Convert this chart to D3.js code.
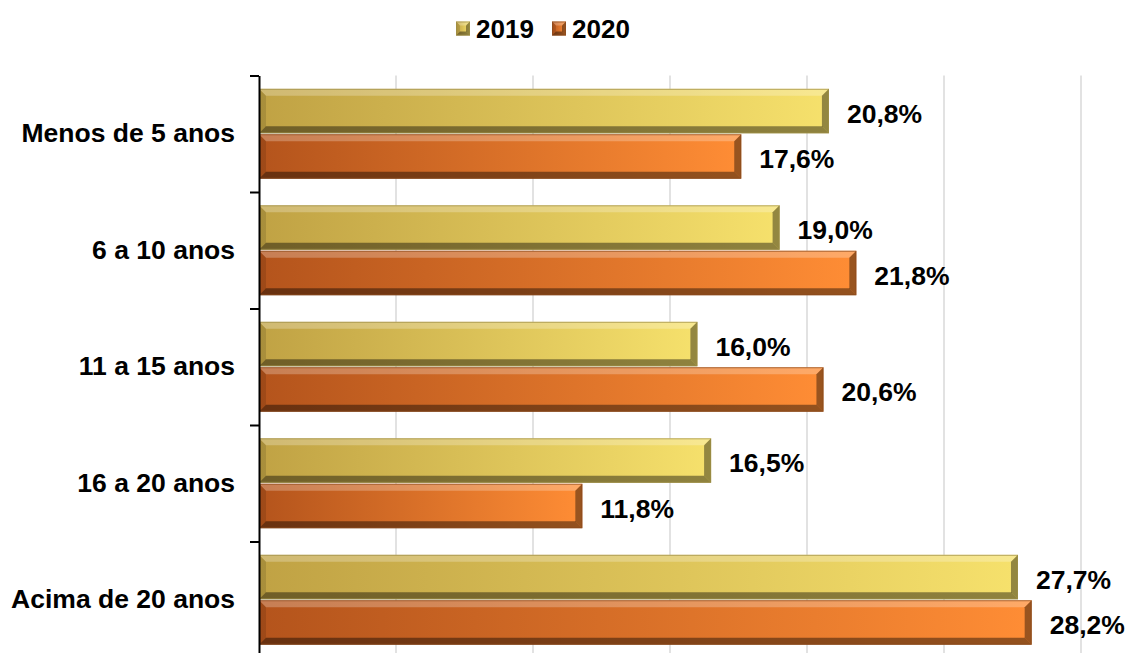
<!DOCTYPE html>
<html>
<head>
<meta charset="utf-8">
<script src="https://cdn.jsdelivr.net/npm/d3@7"></script>
<style>
  body { margin: 0; background: #fff; }
  svg { display: block; font-family: "Liberation Sans", Arial, sans-serif; }
</style>
</head>
<body>
<div id="chart"></div>
<script>
// data
const categories = ["Menos de 5 anos", "6 a 10 anos", "11 a 15 anos", "16 a 20 anos", "Acima de 20 anos"];
const seriesNames = ["2019", "2020"];
const values2019 = [20.8, 19.0, 16.0, 16.5, 27.7];
const values2020 = [17.6, 21.8, 20.6, 11.8, 28.2];
const xTicks = [0, 5, 10, 15, 20, 25, 30];

const width = 1128, height = 653;
const margin = { top: 75.5, left: 259, right: 47 };
const plotBottom = 658;

// colours: dark left end, light right end, and outline
const palette = {
  "2019": { dark: "#c0a244", light: "#f6e16c", edge: "#9c8d45" },
  "2020": { dark: "#b4541c", light: "#ff8d35", edge: "#8a4a1d" }
};

const rows = categories.map((c, i) => ({
  category: c,
  values: [
    { series: "2019", value: values2019[i] },
    { series: "2020", value: values2020[i] }
  ]
}));

const svg = d3.select("#chart").append("svg")
  .attr("width", width)
  .attr("height", height);

const defs = svg.append("defs");
seriesNames.forEach(s => {
  const g = defs.append("linearGradient")
    .attr("id", "grad" + s)
    .attr("x1", "0").attr("y1", "0").attr("x2", "1").attr("y2", "0");
  g.append("stop").attr("offset", "0").attr("stop-color", palette[s].dark);
  g.append("stop").attr("offset", "1").attr("stop-color", palette[s].light);
});

const x = d3.scaleLinear().domain([0, 30]).range([margin.left, width - margin.right]);
const y = d3.scaleBand().domain(categories)
  .range([margin.top, plotBottom])
  .paddingInner(0.22).paddingOuter(0.11);
const ySeries = d3.scaleBand().domain(seriesNames).range([0, y.bandwidth()]);

// vertical gridlines
svg.append("g")
  .selectAll("line")
  .data(xTicks.slice(1))
  .join("line")
  .attr("x1", d => x(d)).attr("x2", d => x(d))
  .attr("y1", margin.top).attr("y2", plotBottom)
  .attr("stroke", "#d9d9d9")
  .attr("stroke-width", 1.5);

// draws a bar with bevelled edges
function bevelBar(g, x0, y0, x1, y1, s, b) {
  g.append("rect")
    .attr("x", x0).attr("y", y0)
    .attr("width", x1 - x0).attr("height", y1 - y0)
    .attr("fill", `url(#grad${s})`);
  const faces = [
    { pts: [[x0, y0], [x1, y0], [x1 - b, y0 + b], [x0 + b, y0 + b]], fill: "#fff", op: 0.25 },
    { pts: [[x0, y1], [x1, y1], [x1 - b, y1 - b], [x0 + b, y1 - b]], fill: "#000", op: 0.42 },
    { pts: [[x0, y0], [x0 + b, y0 + b], [x0 + b, y1 - b], [x0, y1]], fill: "#000", op: 0.12 },
    { pts: [[x1, y0], [x1 - b, y0 + b], [x1 - b, y1 - b], [x1, y1]], fill: "#000", op: 0.4 }
  ];
  g.selectAll(null)
    .data(faces)
    .join("polygon")
    .attr("points", d => d.pts.map(p => p.join(",")).join(" "))
    .attr("fill", d => d.fill)
    .attr("fill-opacity", d => d.op);
  g.append("rect")
    .attr("x", x0 + 0.5).attr("y", y0 + 0.5)
    .attr("width", x1 - x0 - 1).attr("height", y1 - y0 - 1)
    .attr("fill", "none")
    .attr("stroke", palette[s].edge)
    .attr("stroke-opacity", 0.7);
}

const groups = svg.append("g")
  .selectAll("g")
  .data(rows)
  .join("g")
  .attr("transform", d => `translate(0,${y(d.category)})`);

groups.each(function (row) {
  const g = d3.select(this);
  row.values.forEach(v => {
    const y0 = ySeries(v.series) + 0.5;
    const y1 = ySeries(v.series) + ySeries.bandwidth() - 0.5;
    bevelBar(g.append("g"), x(0), y0, x(v.value), y1, v.series, 7);
    g.append("text")
      .attr("x", x(v.value) + 18)
      .attr("y", ySeries(v.series) + ySeries.bandwidth() / 2 + 2)
      .attr("dy", "0.36em")
      .attr("font-size", 26.5)
      .attr("font-weight", "bold")
      .attr("fill", "#000")
      .text(d3.format(".1f")(v.value).replace(".", ",") + "%");
  });
});

// left axis with ticks at the category boundaries
const yEdges = d3.scaleLinear().domain([0, categories.length])
  .range([margin.top, margin.top + y.step() * categories.length]);
svg.append("g")
  .attr("transform", `translate(${margin.left},0)`)
  .call(d3.axisLeft(yEdges).tickValues(d3.range(categories.length + 1)).tickFormat("").tickSize(9).tickSizeOuter(0))
  .call(g => g.selectAll("line, path").attr("stroke", "#000").attr("stroke-width", 2));

// category labels
svg.append("g")
  .attr("transform", `translate(${margin.left},0)`)
  .call(d3.axisLeft(y).tickSize(0).tickPadding(24))
  .call(g => g.select(".domain").remove())
  .call(g => g.selectAll("text")
    .attr("font-family", "'Liberation Sans', Arial, sans-serif")
    .attr("font-size", 26.5)
    .attr("font-weight", "bold")
    .attr("fill", "#000"));

// legend
const legendItems = [
  { series: "2019", x: 456 },
  { series: "2020", x: 552 }
];
const legend = svg.append("g");
legendItems.forEach(item => {
  const lg = legend.append("g");
  bevelBar(lg, item.x, 21.5, item.x + 14, 35.5, item.series, 4);
  lg.append("text")
    .attr("x", item.x + 20)
    .attr("y", 28.5)
    .attr("dy", "0.36em")
    .attr("font-size", 26)
    .attr("font-weight", "bold")
    .text(item.series);
});
</script>
</body>
</html>
